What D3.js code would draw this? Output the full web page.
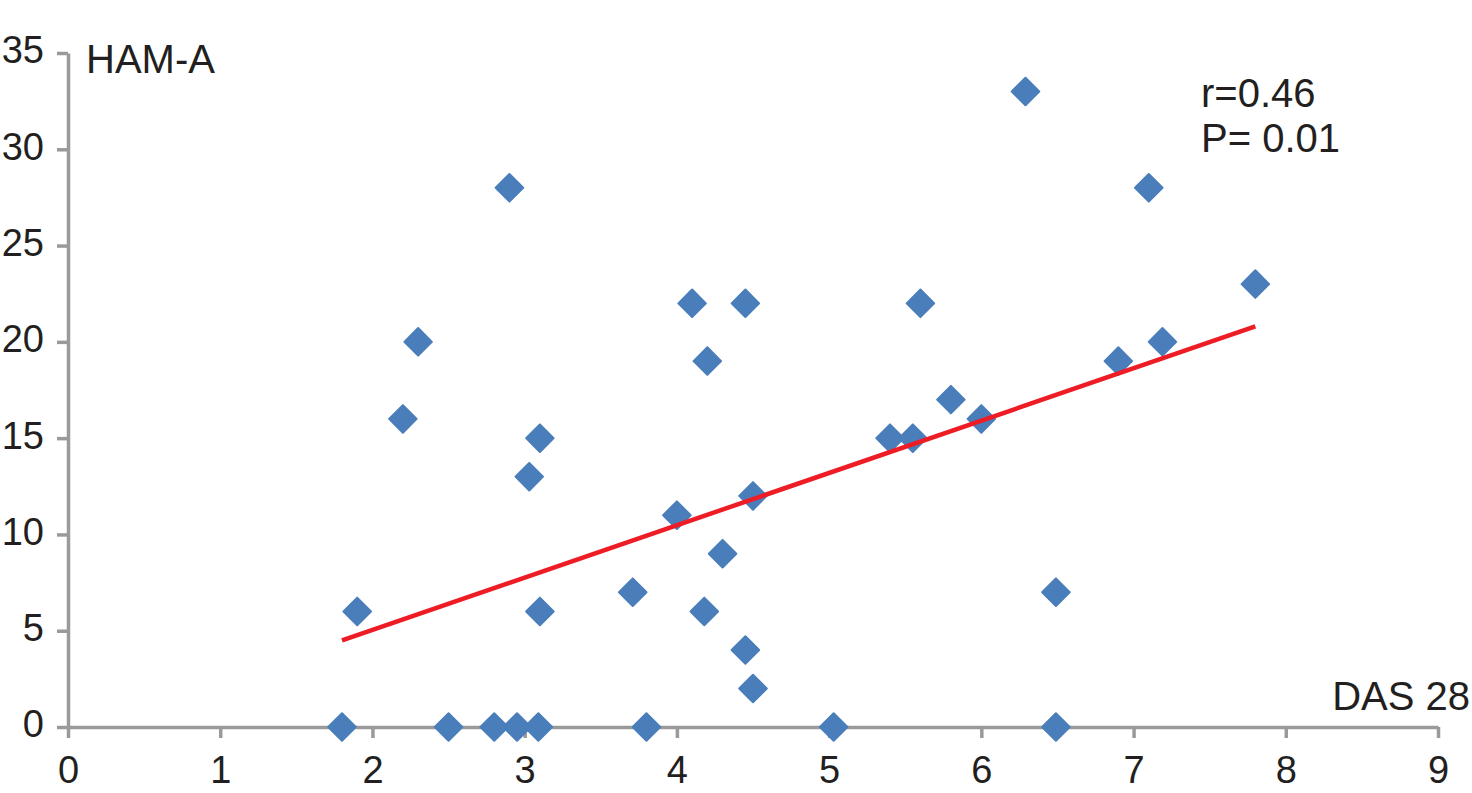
<!DOCTYPE html>
<html>
<head>
<meta charset="utf-8">
<script src="https://cdn.jsdelivr.net/npm/d3@7"></script>
<style>
  body { margin: 0; background: #fff; }
  text { font-family: "Liberation Sans", Arial, sans-serif; fill: #231f20; }
</style>
</head>
<body>
<div id="vis"></div>
<script>
// valores
const das28 = [1.8, 1.9, 2.2, 2.3, 2.5, 2.8, 2.9, 2.95, 3.03, 3.09, 3.1, 3.1,
  3.71, 3.8, 4.0, 4.1, 4.2, 4.18, 4.3, 4.45, 4.45, 4.5, 4.5, 5.03,
  5.4, 5.55, 5.6, 5.8, 6.0, 6.29, 6.49, 6.49, 6.9, 7.1, 7.19, 7.8];
const hamA = [0, 6, 16, 20, 0, 0, 28, 0, 13, 0, 15, 6,
  7, 0, 11, 22, 19, 6, 9, 22, 4, 12, 2, 0,
  15, 15, 22, 17, 16, 33, 7, 0, 19, 28, 20, 23];

// recta de regresion (extremos)
const trendX = [1.8, 7.8];
const trendY = [4.5, 20.8];

const xTicks = [0, 1, 2, 3, 4, 5, 6, 7, 8, 9];
const yTicks = [0, 5, 10, 15, 20, 25, 30, 35];

const WIDTH = 1472;
const HEIGHT = 793;
const MARGIN = { top: 53, bottom: 66, left: 68, right: 34 };

const AXIS_COLOR = "#9a9a9a";

const svg = d3.select("#vis").append("svg")
  .attr("width", WIDTH).attr("height", HEIGHT);

const x = d3.scaleLinear().domain([0, 9]).range([MARGIN.left, WIDTH - MARGIN.right]);
const y = d3.scaleLinear().domain([0, 35]).range([HEIGHT - MARGIN.bottom, MARGIN.top]);

// eje Y
const gy = svg.append("g")
  .attr("transform", `translate(${MARGIN.left},0)`)
  .call(d3.axisLeft(y).tickValues(yTicks).tickSize(11).tickSizeOuter(0).tickPadding(13));

// eje X
const gx = svg.append("g")
  .attr("transform", `translate(0,${y(0)})`)
  .call(d3.axisBottom(x).tickValues(xTicks).tickSize(11).tickSizeOuter(0).tickPadding(18));

[gx, gy].forEach(g => {
  g.select(".domain").attr("stroke", AXIS_COLOR).attr("stroke-width", 3.5);
  g.selectAll(".tick line").attr("stroke", AXIS_COLOR).attr("stroke-width", 3.5);
  g.selectAll(".tick text")
    .attr("font-size", 38)
    .attr("font-family", "Liberation Sans, Arial, sans-serif")
    .attr("fill", "#231f20");
});
gy.selectAll(".tick text").attr("dy", "0.26em");

// puntos (rombos)
const diamond = d3.symbol().type(d3.symbolSquare).size(380);
svg.append("g")
  .selectAll("path")
  .data(das28.map((d, i) => ({ x: d, y: hamA[i] })))
  .join("path")
  .attr("d", diamond)
  .attr("transform", d => `translate(${x(d.x)},${y(d.y)}) rotate(45)`)
  .attr("fill", "#4a7ebb")
  .attr("stroke", "#4a7ebb")
  .attr("stroke-width", 2)
  .attr("stroke-linejoin", "round");

// linea de tendencia
svg.append("path")
  .datum(trendX.map((d, i) => [d, trendY[i]]))
  .attr("d", d3.line().x(d => x(d[0])).y(d => y(d[1])))
  .attr("fill", "none")
  .attr("stroke", "#ee1c25")
  .attr("stroke-width", 4.5);

// textos
svg.append("text").text("HAM-A").attr("x", 86).attr("y", 73).attr("font-size", 40);
svg.append("text").text("DAS 28").attr("x", 1470).attr("y", 710)
  .attr("text-anchor", "end").attr("font-size", 40);
svg.append("text").text("r=0.46").attr("x", 1201).attr("y", 107).attr("font-size", 40);
svg.append("text").text("P= 0.01").attr("x", 1201).attr("y", 152).attr("font-size", 40);
</script>
</body>
</html>
